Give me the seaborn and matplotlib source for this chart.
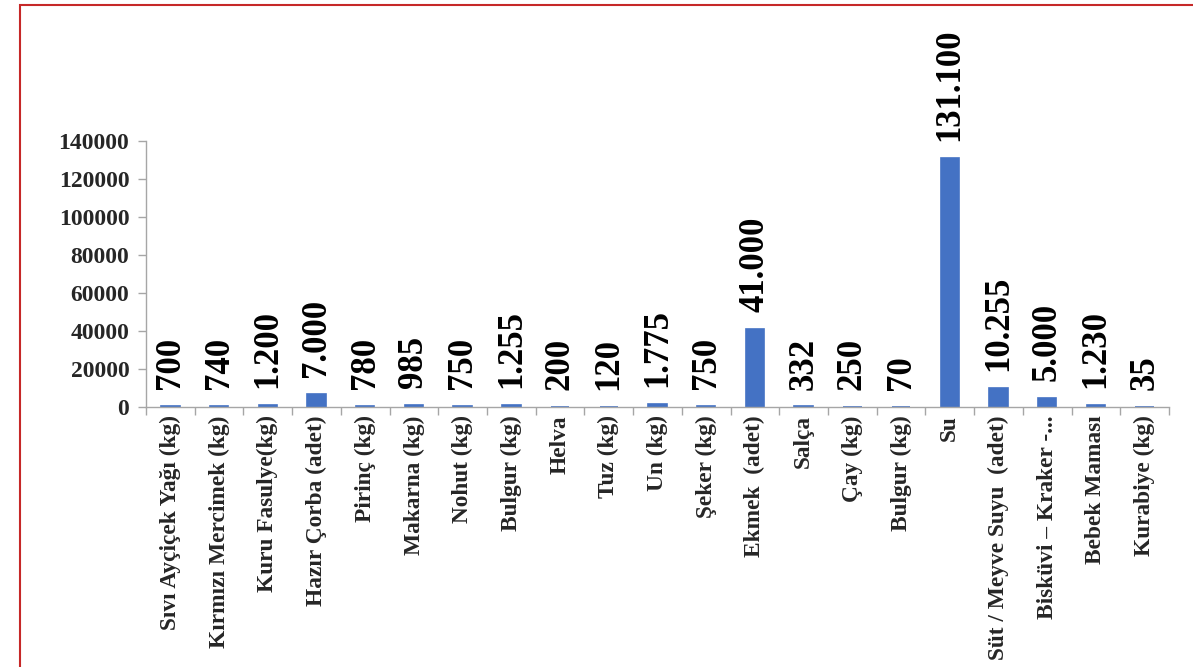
import pandas as pd
import matplotlib.pyplot as plt
import matplotlib.patches as mpatches
from matplotlib.ticker import FixedLocator
import seaborn as sns

# Data
items = [
    "Sıvı Ayçiçek Yağı (kg)", "Kırmızı Mercimek (kg)", "Kuru Fasulye(kg)",
    "Hazır Çorba (adet)", "Pirinç (kg)", "Makarna (kg)", "Nohut (kg)",
    "Bulgur (kg)", "Helva", "Tuz (kg)", "Un (kg)", "Şeker (kg)",
    "Ekmek  (adet)", "Salça", "Çay (kg)", "Bulgur (kg)", "Su",
    "Süt / Meyve Suyu  (adet)", "Bisküvi – Kraker -...", "Bebek Maması",
    "Kurabiye (kg)",
]
amounts = [700, 740, 1200, 7000, 780, 985, 750, 1255, 200, 120, 1775, 750,
           41000, 332, 250, 70, 131100, 10255, 5000, 1230, 35]
y_ticks = [0, 20000, 40000, 60000, 80000, 100000, 120000, 140000]

BAR = "#4472C4"
AXIS_GREY = "#A6A6A6"

# "Bulgur (kg)" shows up twice, so plot on a unique key and relabel later
df = pd.DataFrame({"key": [str(i) for i in range(len(items))], "amount": amounts})

sns.set_theme(style="white")
plt.rcParams["font.family"] = ["Liberation Serif", "DejaVu Serif"]
plt.rcParams["font.weight"] = "bold"

fig = plt.figure(figsize=(11.93, 6.67), dpi=100)
ax = fig.add_axes([0.1224, 0.3898, 0.8575, 0.3988])

sns.barplot(data=df, x="key", y="amount", color=BAR, width=0.38,
            edgecolor=BAR, linewidth=1.2, saturation=1, ax=ax)

ax.set_xlim(-0.5, len(items) - 0.5)
ax.set_ylim(0, 140000)
ax.set_yticks(y_ticks)
ax.set_yticklabels([str(t) for t in y_ticks], fontsize=17, fontweight="bold")

ax.set_xticks(range(len(items)))
ax.set_xticklabels(items, rotation=90, fontsize=16.8, fontweight="bold",
                   ha="center", va="top")
ax.tick_params(axis="x", which="major", length=0, pad=6)
ax.xaxis.set_minor_locator(FixedLocator([i - 0.5 for i in range(len(items) + 1)]))
ax.tick_params(axis="x", which="minor", bottom=True, length=6, color=AXIS_GREY, width=1)
ax.tick_params(axis="y", left=True, length=6, color=AXIS_GREY, width=1, pad=6)

ax.set_xlabel(None)
ax.set_ylabel(None)
for side in ["top", "right"]:
    ax.spines[side].set_visible(False)
for side in ["left", "bottom"]:
    ax.spines[side].set_color(AXIS_GREY)
    ax.spines[side].set_linewidth(1)

# value labels, Turkish thousands separator
for i, v in enumerate(amounts):
    ax.annotate(f"{v:,}".replace(",", "."), (i, v), xytext=(0, 12),
                textcoords="offset points", rotation=90, ha="center", va="bottom",
                fontsize=25, fontweight="bold", color="black", annotation_clip=False)

# red frame, cut off on the right and bottom like the source image
fig.patches.append(mpatches.Rectangle((20 / 1193, -0.1), 1.2, 0.9925 + 0.1,
                                      transform=fig.transFigure, fill=False,
                                      edgecolor="#C62828", linewidth=1.5))

fig.savefig("out.png", dpi=100)
